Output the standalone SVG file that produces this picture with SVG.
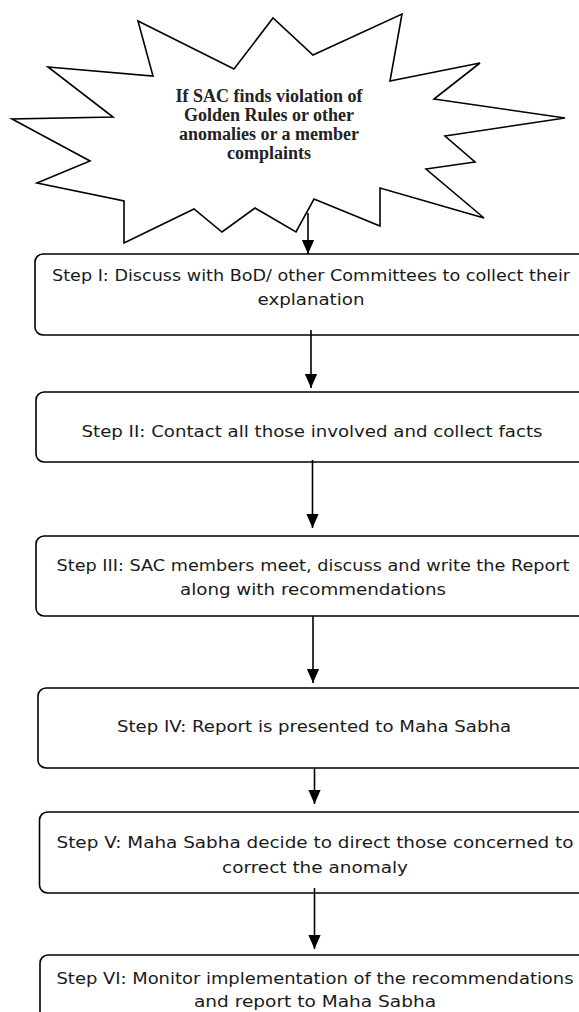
<svg xmlns="http://www.w3.org/2000/svg" width="579" height="1012" viewBox="0 0 579 1012">
<style>
.box{fill:#fff;stroke:#000;stroke-width:1.6}
.t{font-family:"DejaVu Sans","Liberation Sans",sans-serif;font-size:16px;fill:#1a1a1a;text-anchor:middle}
.s{font-family:"Liberation Serif","DejaVu Serif",serif;font-weight:bold;font-size:18px;fill:#222;text-anchor:middle}
.c{stroke:#000;stroke-width:1.6;fill:none}
</style>
<defs>
<marker id="ah" markerUnits="userSpaceOnUse" markerWidth="14" markerHeight="16" viewBox="0 0 16 14" refX="16" refY="7" orient="auto">
<path d="M0,0 L16,7 L0,14 z" fill="#000"/>
</marker>
</defs>
<rect width="579" height="1012" fill="#fff"/>
<g id="start">
<polygon class="box" points="138,21 234,69 273,18 313,55 402,14 390,81 480,63 434,99 565,118 445,136 475,162 426,169 484,218 380,188 380,226 314,199 296,232 255,208 222,232 194,209 124,243 124,201 37,183 90,161 12,119 113,117 48,67 153,76"/>
<text class="s" x="269" y="102">If SAC finds violation of</text>
<text class="s" x="269" y="121">Golden Rules or other</text>
<text class="s" x="269" y="140">anomalies or a member</text>
<text class="s" x="269" y="159">complaints</text>
</g>
<g id="step1">
<rect class="box" x="35" y="254" width="555" height="81" rx="8"/>
<text class="t" x="311" y="281" textLength="518" lengthAdjust="spacingAndGlyphs">Step I: Discuss with BoD/ other Committees to collect their</text>
<text class="t" x="311" y="305" textLength="107" lengthAdjust="spacingAndGlyphs">explanation</text>
</g>
<g id="step2">
<rect class="box" x="36" y="392" width="555" height="70" rx="8"/>
<text class="t" x="312" y="437" textLength="461" lengthAdjust="spacingAndGlyphs">Step II: Contact all those involved and collect facts</text>
</g>
<g id="step3">
<rect class="box" x="36" y="536" width="555" height="80" rx="8"/>
<text class="t" x="313" y="571" textLength="513" lengthAdjust="spacingAndGlyphs">Step III: SAC members meet, discuss and write the Report</text>
<text class="t" x="313" y="595" textLength="266" lengthAdjust="spacingAndGlyphs">along with recommendations</text>
</g>
<g id="step4">
<rect class="box" x="38" y="688" width="555" height="80" rx="8"/>
<text class="t" x="314" y="732" textLength="394" lengthAdjust="spacingAndGlyphs">Step IV: Report is presented to Maha Sabha</text>
</g>
<g id="step5">
<rect class="box" x="39.5" y="812" width="555" height="81" rx="8"/>
<text class="t" x="315" y="848" textLength="517" lengthAdjust="spacingAndGlyphs">Step V: Maha Sabha decide to direct those concerned to</text>
<text class="t" x="315" y="873" textLength="186" lengthAdjust="spacingAndGlyphs">correct the anomaly</text>
</g>
<g id="step6">
<rect class="box" x="40" y="955" width="555" height="90" rx="8"/>
<text class="t" x="315" y="984" textLength="517" lengthAdjust="spacingAndGlyphs">Step VI: Monitor implementation of the recommendations</text>
<text class="t" x="315" y="1007" textLength="242" lengthAdjust="spacingAndGlyphs">and report to Maha Sabha</text>
</g>
<g id="connectors">
<line class="c" x1="308" y1="213" x2="308" y2="254" marker-end="url(#ah)"/>
<line class="c" x1="311" y1="330" x2="311" y2="388" marker-end="url(#ah)"/>
<line class="c" x1="312.5" y1="460" x2="312.5" y2="528" marker-end="url(#ah)"/>
<line class="c" x1="313" y1="616" x2="313" y2="683" marker-end="url(#ah)"/>
<line class="c" x1="314.5" y1="768" x2="314.5" y2="804" marker-end="url(#ah)"/>
<line class="c" x1="314.5" y1="888" x2="314.5" y2="949" marker-end="url(#ah)"/>
</g>
</svg>
